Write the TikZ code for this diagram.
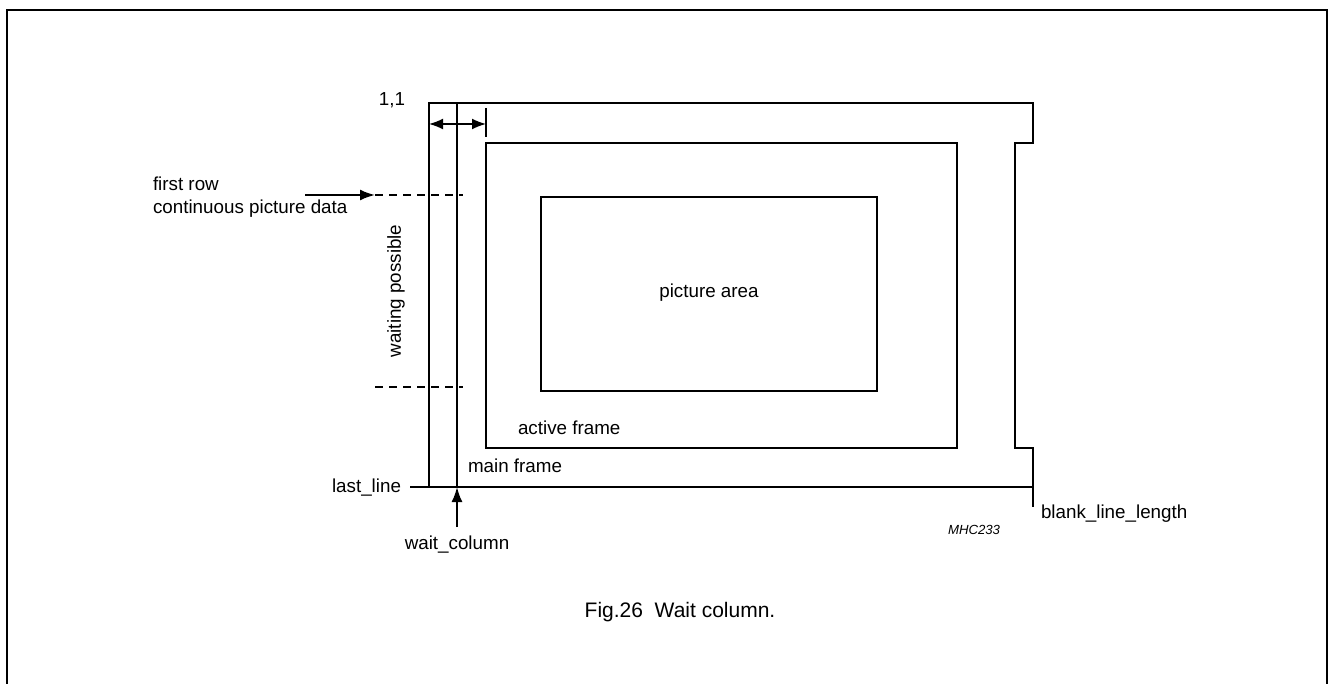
\documentclass[tikz,border=0pt]{standalone}
\usepackage{fontspec}
\setmainfont{Liberation Sans}
\usetikzlibrary{arrows.meta}

\tikzset{
  lbl/.style={inner sep=0pt, font=\fontsize{9.4}{11}\selectfont},
  tip/.style={-{Latex[length=7.5pt,width=5.5pt]}},
  dtip/.style={{Latex[length=7pt,width=5.5pt]}-{Latex[length=7pt,width=5.5pt]}},
  limit/.style={dashed, dash pattern=on 4pt off 3pt, line width=0.6pt},
}

\begin{document}
\begin{tikzpicture}[x=0.5pt, y=-0.5pt, line width=1pt]
\useasboundingbox (0,0) rectangle (1329,684);

\coordinate (MTL) at (429,103);
\coordinate (MBL) at (429,487);
\coordinate (LL) at (410,487);
\coordinate (MBR) at (1033,487);
\coordinate (BLL) at (1033,507);
\coordinate (WT) at (457,103);
\coordinate (WB) at (457,487);
\coordinate (WA) at (457,527);

%outer frame
\draw (7,684) -- (7,10) -- (1327,10) -- (1327,684);

%main frame with blanking notch
\draw (LL) -- (MBR) -- (1033,448) -- (1015,448) -- (1015,143)
  -- (1033,143) -- (1033,103) -- (MTL) -- (MBL);
\draw (MBR) -- (BLL);

%wait column
\draw (WT) -- (WB);
\draw[tip] (WA) -- (WB);

%active frame and picture area
\draw (486,143) rectangle (957,448);
\draw (541,197) rectangle (877,391);
\node[lbl] (pic) at (709,293) {picture area};

%offset of the active frame
\coordinate (AL) at (429,124);
\coordinate (AR) at (486,124);
\draw (486,108) -- (486,137);
\draw[dtip, line width=0.8pt] (AL) -- (AR);

%waiting range
\coordinate (D1) at (375,195);
\coordinate (D1e) at (463,195);
\coordinate (D2) at (375,387);
\coordinate (D2e) at (463,387);
\coordinate (FR) at (305,195);
\draw[limit] (D1) -- (D1e);
\draw[limit] (D2) -- (D2e);
\draw[tip] (FR) -- (D1);

%labels
\node[lbl, anchor=base east] (one) at (406,106) {1,1};
\node[lbl, anchor=base west] (first) at (152,191) {first row};
\node[lbl, anchor=base west] (cont) at (152,214) {continuous picture data};
\node[lbl, rotate=90] (wait) at (396,291) {waiting possible};
\node[lbl, anchor=base west] (act) at (517,435) {active frame};
\node[lbl, anchor=base west] (main) at (467,473) {main frame};
\node[lbl, anchor=base east] (last) at (402,492) {last\_line};
\node[lbl, anchor=base] (wcol) at (457,549) {wait\_column};
\node[lbl, anchor=base west] (blank) at (1040,518) {blank\_line\_length};
\node[inner sep=0pt, font=\fontsize{6.6}{8}\selectfont\itshape, anchor=base west] (code) at (947,534) {MHC233};
\node[inner sep=0pt, font=\fontsize{10.5}{12}\selectfont, anchor=base] (cap) at (680,617) {Fig.26\ \ Wait column.};
\end{tikzpicture}
\end{document}
